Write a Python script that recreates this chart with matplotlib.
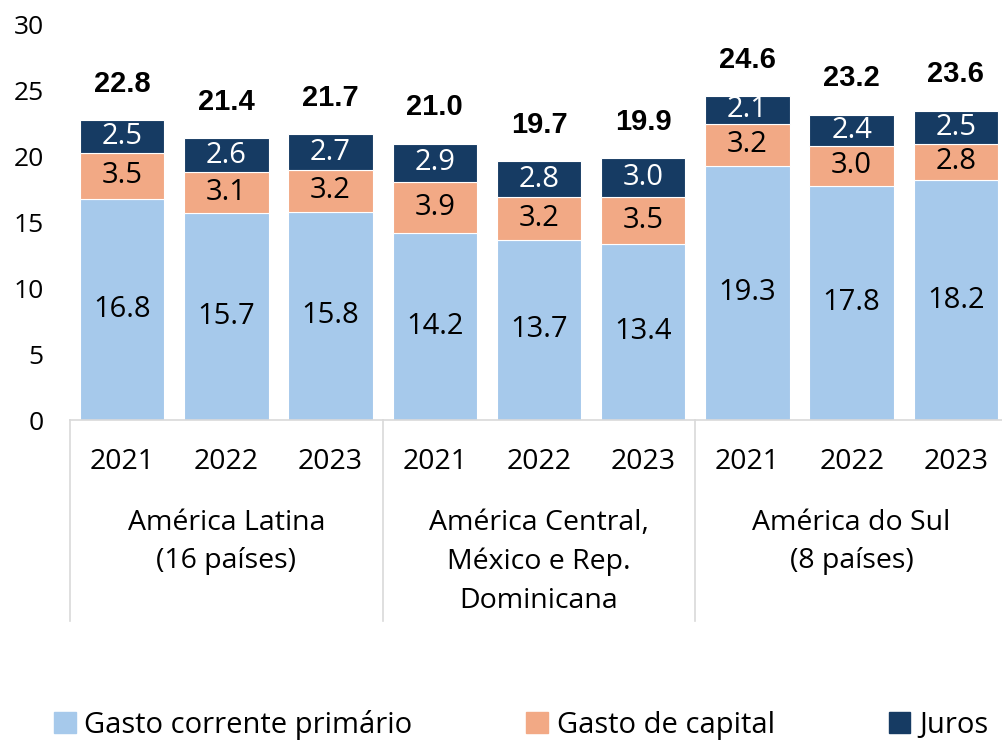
import matplotlib.pyplot as plt
import matplotlib.transforms as mtransforms
from matplotlib.patches import Patch

plt.rcParams['font.family'] = ['Open Sans', 'DejaVu Sans']

years = ['2021', '2022', '2023'] * 3
groups = ['América Latina\n(16 países)',
          'América Central,\nMéxico e Rep.\nDominicana',
          'América do Sul\n(8 países)']
corrente = [16.8, 15.7, 15.8, 14.2, 13.7, 13.4, 19.3, 17.8, 18.2]
capital = [3.5, 3.1, 3.2, 3.9, 3.2, 3.5, 3.2, 3.0, 2.8]
juros = [2.5, 2.6, 2.7, 2.9, 2.8, 3.0, 2.1, 2.4, 2.5]
totais = [22.8, 21.4, 21.7, 21.0, 19.7, 19.9, 24.6, 23.2, 23.6]

c_corr = '#A6C9EB'
c_cap = '#F2A985'
c_jur = '#163B63'

fig = plt.figure(figsize=(10.02, 7.41), dpi=100)
ax = fig.add_axes([70 / 1002, 1 - 420 / 741, 938 / 1002, 395 / 741])

x = list(range(len(years)))
w = 0.81
b1 = ax.bar(x, corrente, w, color=c_corr, edgecolor='white', linewidth=0.8)
b2 = ax.bar(x, capital, w, bottom=corrente, color=c_cap, edgecolor='white', linewidth=0.8)
bottom3 = [a + b for a, b in zip(corrente, capital)]
b3 = ax.bar(x, juros, w, bottom=bottom3, color=c_jur, edgecolor='white', linewidth=0.8)

ax.bar_label(b1, labels=[f'{v:.1f}' for v in corrente], label_type='center', fontsize=21, color='black')
ax.bar_label(b2, labels=[f'{v:.1f}' for v in capital], label_type='center', fontsize=21, color='black')
ax.bar_label(b3, labels=[f'{v:.1f}' for v in juros], label_type='center', fontsize=21, color='white')

# totais em negrito acima das barras
for i, t in enumerate(totais):
    top = bottom3[i] + juros[i]
    ax.annotate(f'{t:.1f}', (i, top), xytext=(0, 26), textcoords='offset points',
                ha='center', va='center', fontsize=21, fontweight='bold',
                family=['Liberation Sans', 'DejaVu Sans'])

ax.set_xlim(-0.5, 8.5)
ax.set_ylim(0, 30)
ax.set_yticks(range(0, 31, 5))
ax.tick_params(axis='y', length=0, labelsize=19, pad=19)
ax.set_xticks(x)
ax.set_xticklabels(years, fontsize=20.5)
ax.tick_params(axis='x', length=0, pad=20)
for s in ['top', 'right', 'left']:
    ax.spines[s].set_visible(False)
ax.spines['bottom'].set_color('#D9D9D9')
ax.spines['bottom'].set_linewidth(1.2)

trans = mtransforms.blended_transform_factory(ax.transData, ax.transAxes)
for sep in [-0.5, 2.5, 5.5]:
    ax.plot([sep, sep], [0, -0.51], color='#D9D9D9', lw=1.2, transform=trans, clip_on=False)
for g, label in enumerate(groups):
    ax.text(3 * g + 1, -0.225, label, transform=trans, ha='center', va='top',
            fontsize=20.5, linespacing=1.5)

handles = [Patch(color=c_corr, label='Gasto corrente primário'),
           Patch(color=c_cap, label='Gasto de capital'),
           Patch(color=c_jur, label='Juros')]
fig.legend(handles=handles, loc='center', bbox_to_anchor=(0.52, 0.022), ncol=3,
           frameon=False, fontsize=21, handlelength=0.75, handleheight=0.75,
           handletextpad=0.3, columnspacing=3.9)

fig.savefig('out.png', dpi=100)
